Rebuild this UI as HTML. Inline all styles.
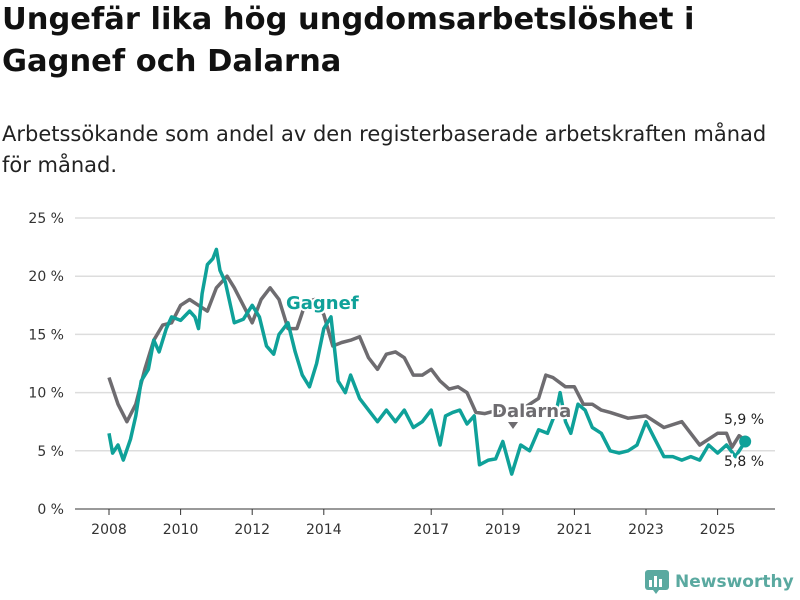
<!DOCTYPE html>
<html><head><meta charset="utf-8"><style>
body{margin:0;width:800px;height:600px;background:#fff;font-family:"DejaVu Sans","Liberation Sans",sans-serif;overflow:hidden;position:relative;color:#111}
h1{position:absolute;left:2px;top:-1px;margin:0;font-size:30.5px;line-height:42px;font-weight:bold;width:700px}
.sub{position:absolute;left:2px;top:119px;font-size:21px;line-height:31px;color:#222;width:795px}
</style></head><body>
<h1>Ungefär lika hög ungdomsarbetslöshet i Gagnef och Dalarna</h1>
<div class="sub">Arbetssökande som andel av den registerbaserade arbetskraften månad för månad.</div>
<svg id="c" width="800" height="600" style="position:absolute;left:0;top:0"></svg>
<script>
const yTicks=[0,5,10,15,20,25];
const xTicks=[2008,2010,2012,2014,2017,2019,2021,2023,2025];
const dalT=[2008,2008.25,2008.5,2008.75,2009,2009.25,2009.5,2009.75,2010,2010.25,2010.5,2010.75,2011,2011.3,2011.5,2011.75,2012,2012.25,2012.5,2012.75,2013,2013.25,2013.5,2013.75,2014,2014.25,2014.5,2014.75,2015,2015.25,2015.5,2015.75,2016,2016.25,2016.5,2016.75,2017,2017.25,2017.5,2017.75,2018,2018.25,2018.5,2018.75,2019,2019.5,2020,2020.2,2020.4,2020.75,2021,2021.25,2021.5,2021.75,2022,2022.5,2023,2023.5,2024,2024.5,2025,2025.25,2025.4,2025.6,2025.77];
const dalV=[11.3,9,7.5,9,12,14.5,15.8,16,17.5,18,17.5,17,19,20,19,17.5,16,18,19,18,15.5,15.5,17.8,18,16.7,14,14.3,14.5,14.8,13,12,13.3,13.5,13,11.5,11.5,12,11,10.3,10.5,10,8.3,8.2,8.4,8.3,8.5,9.5,11.5,11.3,10.5,10.5,9,9,8.5,8.3,7.8,8,7,7.5,5.5,6.5,6.5,5.3,6.3,5.9];
const gagT=[2008,2008.1,2008.25,2008.4,2008.6,2008.75,2008.9,2009.1,2009.25,2009.4,2009.6,2009.75,2010,2010.25,2010.4,2010.5,2010.6,2010.75,2010.9,2011,2011.1,2011.25,2011.5,2011.75,2012,2012.2,2012.4,2012.6,2012.75,2013,2013.2,2013.4,2013.6,2013.8,2014,2014.2,2014.4,2014.6,2014.75,2015,2015.25,2015.5,2015.75,2016,2016.25,2016.5,2016.75,2017,2017.25,2017.4,2017.6,2017.8,2018,2018.2,2018.35,2018.6,2018.8,2019,2019.25,2019.5,2019.75,2020,2020.25,2020.5,2020.6,2020.75,2020.9,2021.1,2021.3,2021.5,2021.75,2022,2022.25,2022.5,2022.75,2023,2023.25,2023.5,2023.75,2024,2024.25,2024.5,2024.75,2025,2025.25,2025.5,2025.77];
const gagV=[6.5,4.8,5.5,4.2,6,8,11,12,14.5,13.5,15.5,16.5,16.2,17,16.5,15.5,18.5,21,21.5,22.3,20.5,19.5,16,16.3,17.5,16.5,14,13.3,15,16,13.5,11.5,10.5,12.5,15.5,16.5,11,10,11.5,9.5,8.5,7.5,8.5,7.5,8.5,7,7.5,8.5,5.5,8,8.3,8.5,7.3,8,3.8,4.2,4.3,5.8,3,5.5,5,6.8,6.5,8.5,10,7.5,6.5,9,8.5,7,6.5,5,4.8,5,5.5,7.5,6,4.5,4.5,4.2,4.5,4.2,5.5,4.8,5.5,4.5,5.8];
const svg=document.getElementById('c');const NS='http://www.w3.org/2000/svg';
const x=t=>109+(t-2008)*35.8, y=v=>509-v*11.64;
function mk(tag,a,txt){const e=document.createElementNS(NS,tag);for(const k in a)e.setAttribute(k,a[k]);if(txt!=null)e.textContent=txt;svg.appendChild(e);return e;}
yTicks.forEach(v=>{
 const l=mk('line',{x1:75,x2:775,y1:y(v),y2:y(v),stroke:v?'#ddd':'#333','stroke-width':v?1.5:1});
 
 
 const t=mk('text',{x:64,y:y(v)+5,'text-anchor':'end','font-size':14,fill:'#333'},v+' %');
 
 
});
xTicks.forEach(v=>{
 const l=mk('line',{x1:x(v),x2:x(v),y1:509,y2:515,stroke:'#333'});
 
 
 const t=mk('text',{x:x(v),y:534,'text-anchor':'middle','font-size':14,fill:'#333'},v);
 
 
});
function line(T,V,c,n){const p=mk('path',{d:T.map((t,i)=>(i?'L':'M')+x(t).toFixed(1)+','+y(V[i]).toFixed(1)).join(''),fill:'none',stroke:c,'stroke-width':3.5,'stroke-linejoin':'round'});
 
 }
line(dalT,dalV,'#6e6c70','dalarna-line');
line(gagT,gagV,'#0fa199','gagnef-line');
const d=mk('circle',{cx:x(gagT[gagT.length-1]),cy:y(gagV[gagV.length-1]),r:6,fill:'#0fa199'});


const lab=(s,xx,yy,c,n,sz,w)=>{const t=mk('text',{x:xx,y:yy,'font-size':sz,'font-weight':w,fill:c,stroke:'#fff','stroke-width':4,'paint-order':'stroke'},s);
 
 };
lab('Gagnef',286,309,'#0fa199','gagnef-label',18,'bold');
lab('Dalarna',492,417,'#6e6c70','dalarna-label',18,'bold');
lab('5,9 %',724,424,'#222','dalarna-end-value',14,'normal');
lab('5,8 %',724,466,'#222','gagnef-end-value',14,'normal');
const tri=mk('path',{d:'M508,422 L518,422 L513,429 Z',fill:'#6e6c70'});


</script>
<div style="position:absolute;left:645px;top:570px;display:flex;align-items:center;gap:6px">
 <svg width="24" height="24"><rect x="0" y="0" width="24" height="20" rx="3" fill="#5aa9a0"/><rect x="4" y="10" width="3" height="7" fill="#fff"/><rect x="9" y="6" width="3" height="11" fill="#fff"/><rect x="14" y="9" width="3" height="8" fill="#fff"/><path d="M8,20 L14,20 L11,24Z" fill="#5aa9a0"/></svg>
 <span style="font-size:17px;font-weight:bold;color:#5aa9a0">Newsworthy</span>
</div>
</body></html>
